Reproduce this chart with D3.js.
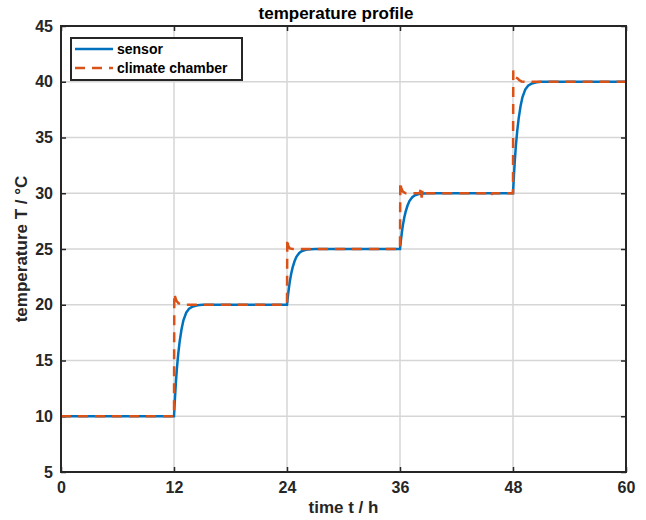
<!DOCTYPE html>
<html>
<head>
<meta charset="utf-8">
<script src="https://cdn.jsdelivr.net/npm/d3@7"></script>
<style>
  body { margin: 0; background: #fff; }
  text { font-family: "Liberation Sans", Arial, sans-serif; font-weight: bold; }
</style>
</head>
<body>
<div id="chart"></div>
<script>
// sensor reading (time in h, temperature in degC)
var sensorTime = [0, 12, 12.1, 12.2, 12.3, 12.45, 12.6, 12.8, 13.0, 13.3, 13.6, 14.0, 14.5, 15.0,
                  24, 24.1, 24.2, 24.3, 24.45, 24.6, 24.8, 25.0, 25.3, 25.6, 26.0, 26.5, 27.0,
                  36, 36.1, 36.2, 36.3, 36.45, 36.6, 36.8, 37.0, 37.3, 37.6, 38.0, 38.5, 39.0,
                  48, 48.1, 48.2, 48.3, 48.45, 48.6, 48.8, 49.0, 49.3, 49.6, 50.0, 50.5, 51.0, 60];
var sensorTemp = [10, 10, 11.6, 13.0, 14.2, 15.6, 16.7, 17.8, 18.6, 19.3, 19.65, 19.85, 19.96, 20,
                  20, 20.8, 21.5, 22.1, 22.8, 23.35, 23.9, 24.3, 24.65, 24.82, 24.93, 24.98, 25,
                  25, 25.8, 26.5, 27.1, 27.8, 28.35, 28.9, 29.3, 29.65, 29.82, 29.93, 29.98, 30,
                  30, 31.6, 33.0, 34.2, 35.6, 36.7, 37.8, 38.6, 39.3, 39.65, 39.85, 39.96, 40, 40];

// climate chamber temperature
var chamberTime = [0, 12, 12.03, 12.15, 12.3, 12.5, 12.8, 13.2,
                   24, 24.03, 24.12, 24.3, 24.6,
                   36, 36.03, 36.12, 36.3, 36.6, 38.1, 38.2, 38.3, 38.4, 38.5, 45.4, 45.6, 45.8, 48,
                   48.03, 48.12, 48.25, 48.5, 48.65, 48.9, 49.3, 60];
var chamberTemp = [10, 10, 21.0, 20.6, 20.3, 20.12, 20.03, 20,
                   20, 25.9, 25.3, 25.05, 25,
                   25, 31.0, 30.5, 30.15, 30.0, 30.0, 30.4, 29.6, 30.35, 30.0, 30.0, 29.75, 30.0, 30,
                   41.0, 40.7, 40.4, 40.3, 40.15, 40.03, 40.0, 40];

var xTicks = [0, 12, 24, 36, 48, 60];
var yTicks = [5, 10, 15, 20, 25, 30, 35, 40, 45];
var seriesNames = ["sensor", "climate chamber"];

var W = 646, H = 520;
var margin = {left: 61, right: 20, top: 26, bottom: 48};

var svg = d3.select("#chart").append("svg")
    .attr("width", W)
    .attr("height", H);

var x = d3.scaleLinear().domain([0, 60]).range([margin.left, W - margin.right]);
var y = d3.scaleLinear().domain([5, 45]).range([H - margin.bottom, margin.top]);

// grid
svg.append("g").selectAll("line.gx")
    .data(xTicks.slice(1, -1))
    .enter().append("line")
    .attr("x1", d => x(d)).attr("x2", d => x(d))
    .attr("y1", y(5)).attr("y2", y(45))
    .attr("stroke", "#d6d6d6").attr("stroke-width", 1.5);
svg.append("g").selectAll("line.gy")
    .data(yTicks.slice(1, -1))
    .enter().append("line")
    .attr("x1", x(0)).attr("x2", x(60))
    .attr("y1", d => y(d)).attr("y2", d => y(d))
    .attr("stroke", "#d6d6d6").attr("stroke-width", 1.5);

// axes (ticks pointing inward)
svg.append("g")
    .attr("transform", "translate(0," + y(5) + ")")
    .call(d3.axisBottom(x).tickValues(xTicks).tickSizeInner(-5).tickSizeOuter(0).tickPadding(10));
svg.append("g")
    .attr("transform", "translate(0," + y(45) + ")")
    .call(d3.axisTop(x).tickValues(xTicks).tickSizeInner(-5).tickSizeOuter(0).tickFormat(""));
svg.append("g")
    .attr("transform", "translate(" + x(0) + ",0)")
    .call(d3.axisLeft(y).tickValues(yTicks).tickSizeInner(-5).tickSizeOuter(0).tickPadding(8));
svg.append("g")
    .attr("transform", "translate(" + x(60) + ",0)")
    .call(d3.axisRight(y).tickValues(yTicks).tickSizeInner(-5).tickSizeOuter(0).tickFormat(""));

svg.selectAll(".domain").remove();
svg.selectAll(".tick line").attr("stroke", "#262626").attr("stroke-width", 1.5);
svg.selectAll(".tick text")
    .attr("fill", "#262626")
    .style("font-size", "16px");

// data lines
var line = d3.line()
    .x(d => x(d[0]))
    .y(d => y(d[1]));

var sensorData = sensorTime.map((t, i) => [t, sensorTemp[i]]);
var chamberData = chamberTime.map((t, i) => [t, chamberTemp[i]]);

svg.append("path")
    .datum(sensorData)
    .attr("d", line)
    .attr("fill", "none")
    .attr("stroke", "#0072BD")
    .attr("stroke-width", 2.5);

svg.append("path")
    .datum(chamberData)
    .attr("d", line)
    .attr("fill", "none")
    .attr("stroke", "#D95319")
    .attr("stroke-width", 2.5)
    .attr("stroke-dasharray", "10,7");

// frame
svg.append("rect")
    .attr("x", x(0)).attr("y", y(45))
    .attr("width", x(60) - x(0)).attr("height", y(5) - y(45))
    .attr("fill", "none")
    .attr("stroke", "#262626")
    .attr("stroke-width", 2);

// title and labels
svg.append("text")
    .attr("x", 336).attr("y", 19)
    .attr("text-anchor", "middle")
    .style("font-size", "17px")
    .attr("fill", "#000")
    .text("temperature profile");

svg.append("text")
    .attr("x", (x(0) + x(60)) / 2).attr("y", 513)
    .attr("text-anchor", "middle")
    .style("font-size", "17px")
    .attr("fill", "#262626")
    .text("time t / h");

svg.append("text")
    .attr("transform", "translate(27," + ((y(5) + y(45)) / 2) + ") rotate(-90)")
    .attr("text-anchor", "middle")
    .style("font-size", "17px")
    .attr("fill", "#262626")
    .text("temperature T / °C");

// legend
var legend = svg.append("g");
legend.append("rect")
    .attr("x", 71).attr("y", 38)
    .attr("width", 171).attr("height", 42)
    .attr("fill", "#fff")
    .attr("stroke", "#262626")
    .attr("stroke-width", 2);

legend.selectAll("line")
    .data(seriesNames)
    .enter().append("line")
    .attr("x1", 75).attr("x2", 113)
    .attr("y1", (d, i) => 49 + i * 19)
    .attr("y2", (d, i) => 49 + i * 19)
    .attr("stroke", (d, i) => i == 0 ? "#0072BD" : "#D95319")
    .attr("stroke-width", 2.5)
    .attr("stroke-dasharray", (d, i) => i == 0 ? null : "10,7");

legend.selectAll("text")
    .data(seriesNames)
    .enter().append("text")
    .attr("x", 117)
    .attr("y", (d, i) => 54 + i * 19)
    .style("font-size", "14px")
    .attr("fill", "#000")
    .text(d => d);
</script>
</body>
</html>
